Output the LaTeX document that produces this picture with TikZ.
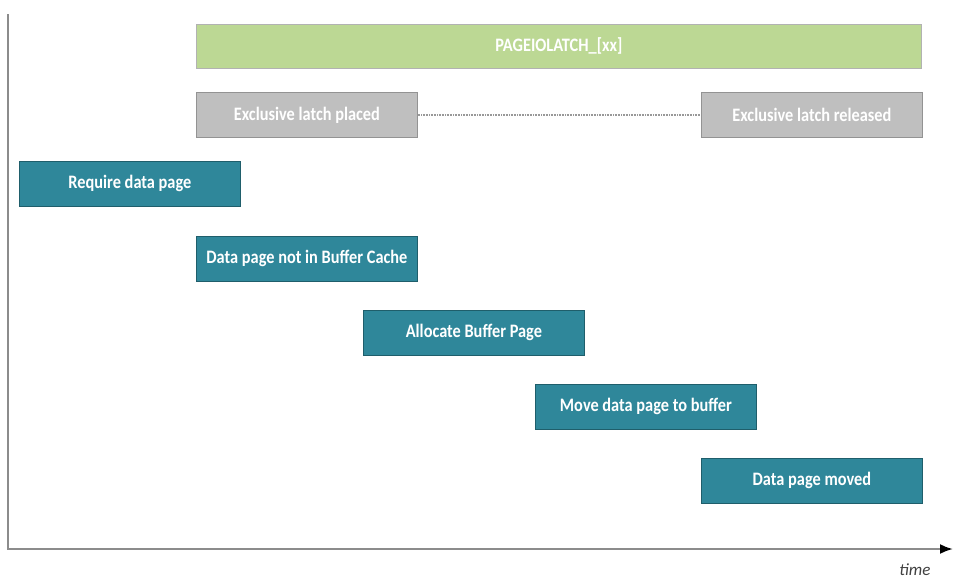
\documentclass[tikz,border=0pt]{standalone}
\usepackage{fontspec}
\setmainfont{Carlito}
\newfontfamily\boxfont[FakeStretch=0.86]{Carlito}
\usepackage{tikz}
\usetikzlibrary{arrows.meta, positioning}
\definecolor{tealbox}{HTML}{2F879A}
\definecolor{tealedge}{HTML}{1F5E6B}
\definecolor{greenbar}{HTML}{BCD894}
\definecolor{greybox}{HTML}{BFBFBF}
\definecolor{axisgrey}{HTML}{8C8C8C}
\tikzset{%
	stepnode/.style={draw=tealedge, line width=0.8pt, fill=tealbox, rectangle, anchor=north west,%
		minimum width=221pt, minimum height=45pt, inner sep=0pt, text=white,%
		font=\boxfont\bfseries\fontsize{19}{21}\selectfont},
	latchnode/.style={stepnode, draw=gray!85, fill=greybox},
	waitbar/.style={stepnode, draw=gray!60, fill=greenbar, minimum width=725pt, minimum height=44pt},
	axis/.style={line width=2.2pt, draw=axisgrey},
	holds/.style={line width=1.8pt, draw=gray!80, dash pattern=on 1pt off 0.6pt}
}

\begin{document}
\begin{tikzpicture}[x=1pt, y=-1pt]
	\useasboundingbox (0,0) rectangle (962,586);

	\node[waitbar] (wait) at (196,24) {PAGEIOLATCH\_[xx]};

	\node[latchnode] (placed) at (196,92) {Exclusive latch placed};
	\node[latchnode] (released) at (701,92) {Exclusive latch released};
	\draw[holds] (placed.east) -- (released.west);

	\node[stepnode] (require) at (19,161) {Require data page};
	\node[stepnode] (miss) at (196,236) {Data page not in Buffer Cache};
	\node[stepnode] (alloc) at (363,310) {Allocate Buffer Page};
	\node[stepnode] (move) at (535,384) {Move data page to buffer};
	\node[stepnode] (moved) at (701,458) {Data page moved};

	% time axis
	\coordinate (top) at (8,15);
	\coordinate (origin) at (8,549);
	\coordinate (end) at (953,549);
	\draw[axis, line cap=rect] (top) -- (origin);
	\draw[axis, -{Latex[black, length=13pt, width=10pt]}] (origin) -- (end);
	\node[font=\itshape\fontsize{17}{19}\selectfont, text=black!75] (time) at (915,570) {time};
\end{tikzpicture}
\end{document}
